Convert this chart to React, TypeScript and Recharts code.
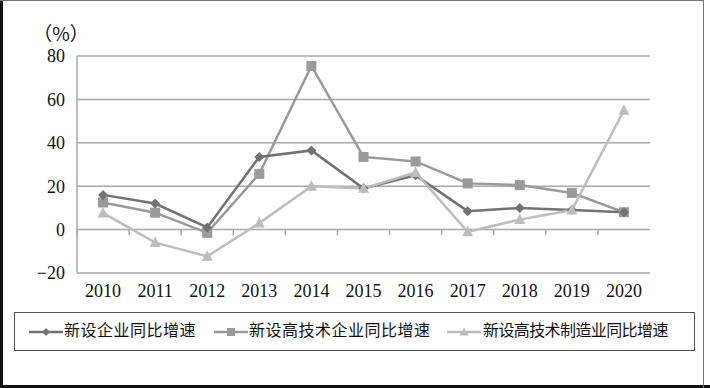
import React from 'react';
import { LineChart, Line, XAxis, YAxis, CartesianGrid, ReferenceLine, Legend, Label } from 'recharts';

const years = ['2010', '2011', '2012', '2013', '2014', '2015', '2016', '2017', '2018', '2019', '2020'];
const newEnterprise = [16, 12, 1, 33.5, 36.5, 19, 25, 8.5, 10, 9, 8];
const newHighTech = [12.5, 7.8, -1.5, 25.7, 75.4, 33.5, 31.4, 21.3, 20.5, 16.9, 8];
const newHighTechMfg = [7.7, -6, -12.3, 3, 20, 19, 26.3, -1, 4.6, 9, 55];
const yTicks = [-20, 0, 20, 40, 60, 80];
const seriesNames = ['新设企业同比增速', '新设高技术企业同比增速', '新设高技术制造业同比增速'];

const data = years.map((y, i) => ({
  year: y,
  a: newEnterprise[i],
  b: newHighTech[i],
  c: newHighTechMfg[i],
}));

const C1 = '#727272';
const C2 = '#9a9a9a';
const C3 = '#bdbdbd';
const GRID = '#a8a8a8';
const NUM_FONT = '"Liberation Serif", "DejaVu Serif", serif';
const CJK_FONT = '"Liberation Serif", "Noto Sans CJK SC", sans-serif';

const Diamond = (props: any) => {
  const { cx, cy, fill } = props;
  if (cx == null || cy == null) return null;
  const r = 5;
  return <path d={`M${cx},${cy - r}L${cx + r},${cy}L${cx},${cy + r}L${cx - r},${cy}Z`} fill={fill} />;
};
const Square = (props: any) => {
  const { cx, cy, fill } = props;
  if (cx == null || cy == null) return null;
  const r = 5;
  return <rect x={cx - r} y={cy - r} width={2 * r} height={2 * r} fill={fill} />;
};
const Triangle = (props: any) => {
  const { cx, cy, fill } = props;
  if (cx == null || cy == null) return null;
  return <path d={`M${cx},${cy - 6}L${cx + 5.5},${cy + 4.5}L${cx - 5.5},${cy + 4.5}Z`} fill={fill} />;
};

const LegendIcon = ({ color, kind }: { color: string; kind: number }) => (
  <svg width={34} height={12} style={{ display: 'block' }}>
    <line x1={0} y1={6} x2={34} y2={6} stroke={color} strokeWidth={2.5} />
    {kind === 0 && <path d="M17,2L21,6L17,10L13,6Z" fill={color} />}
    {kind === 1 && <rect x={13} y={2} width={8} height={8} fill={color} />}
    {kind === 2 && <path d="M17,1.5L21.5,9.5L12.5,9.5Z" fill={color} />}
  </svg>
);

const legendItems = [
  { color: C1, kind: 0, iconX: 14, textX: 49, spacing: 0.5 },
  { color: C2, kind: 1, iconX: 199, textX: 234, spacing: 0.5 },
  { color: C3, kind: 2, iconX: 432, textX: 468, spacing: -0.6 },
];

const CustomLegend = () => (
  <div
    style={{
      position: 'relative',
      width: 681,
      height: 39,
      boxSizing: 'border-box',
      border: '1.5px solid #555',
      background: '#fff',
    }}
  >
    {legendItems.map((it, i) => (
      <React.Fragment key={i}>
        <div style={{ position: 'absolute', left: it.iconX, top: 13 }}>
          <LegendIcon color={it.color} kind={it.kind} />
        </div>
        <div
          style={{
            position: 'absolute',
            left: it.textX,
            top: 7,
            fontFamily: CJK_FONT,
            fontSize: 16,
            letterSpacing: it.spacing,
            color: '#111',
            lineHeight: '22px',
            whiteSpace: 'nowrap',
          }}
        >
          {seriesNames[i]}
        </div>
      </React.Fragment>
    ))}
  </div>
);

export default function App() {
  return (
    <div style={{ position: 'absolute', left: 0, top: 0, width: 710, height: 388, background: '#fff', overflow: 'hidden' }}>
      <LineChart
        width={710}
        height={388}
        data={data}
        margin={{ top: 56, right: 60, left: 17, bottom: 85 }}
      >
        <CartesianGrid vertical={false} stroke={GRID} strokeWidth={1.5} />
        <XAxis
          dataKey="year"
          scale="band"
          axisLine={false}
          tickLine={false}
          height={30}
          tickMargin={5}
          tick={{ fontFamily: NUM_FONT, fontSize: 18, fill: '#111' }}
          interval={0}
        />
        <YAxis
          width={60}
          domain={[-20, 80]}
          ticks={yTicks}
          interval={0}
          axisLine={{ stroke: GRID, strokeWidth: 1.5 }}
          tickLine={false}
          tickMargin={6}
          tick={{ fontFamily: NUM_FONT, fontSize: 18, fill: '#111' }}
          tickFormatter={(v: number) => (v < 0 ? `−${Math.abs(v)}` : `${v}`)}
        >
          <Label
            content={({ viewBox }: any) => (
              <text
                x={viewBox.x + 44}
                y={viewBox.y - 15}
                textAnchor="middle"
                fontFamily='"Noto Sans CJK SC", sans-serif'
                fontSize={19}
                fill="#111"
              >
                （%）
              </text>
            )}
          />
        </YAxis>
        {years.map((yr) => (
          <ReferenceLine
            key={yr}
            segment={[
              { x: yr, y: 0 },
              { x: yr, y: -2.6 },
            ]}
            position="start"
            stroke={GRID}
            strokeWidth={1.5}
          />
        ))}
        <ReferenceLine
          segment={[
            { x: years[years.length - 1], y: 0 },
            { x: years[years.length - 1], y: -2.6 },
          ]}
          position="end"
          stroke={GRID}
          strokeWidth={1.5}
        />
        <Legend
          layout="horizontal"
          verticalAlign="middle"
          align="center"
          content={() => <CustomLegend />}
          wrapperStyle={{ position: 'absolute', left: 14, top: 312, width: 681, height: 39 }}
        />
        <Line
          dataKey="b"
          name={seriesNames[1]}
          stroke={C2}
          strokeWidth={2.5}
          dot={<Square fill={C2} />}
          isAnimationActive={false}
        />
        <Line
          dataKey="a"
          name={seriesNames[0]}
          stroke={C1}
          strokeWidth={2.5}
          dot={<Diamond fill={C1} />}
          isAnimationActive={false}
        />
        <Line
          dataKey="c"
          name={seriesNames[2]}
          stroke={C3}
          strokeWidth={2.5}
          dot={<Triangle fill={C3} />}
          isAnimationActive={false}
        />
      </LineChart>
      <div style={{ position: 'absolute', left: 0, top: 0, width: 3, height: 388, background: '#111', pointerEvents: 'none' }} />
      <div style={{ position: 'absolute', left: 0, top: 385, width: 710, height: 3, background: '#111', pointerEvents: 'none' }} />
      <div style={{ position: 'absolute', left: 0, top: 0, width: 704, height: 1, background: '#777', pointerEvents: 'none' }} />
      <div style={{ position: 'absolute', left: 703, top: 0, width: 1, height: 388, background: '#777', pointerEvents: 'none' }} />
    </div>
  );
}
